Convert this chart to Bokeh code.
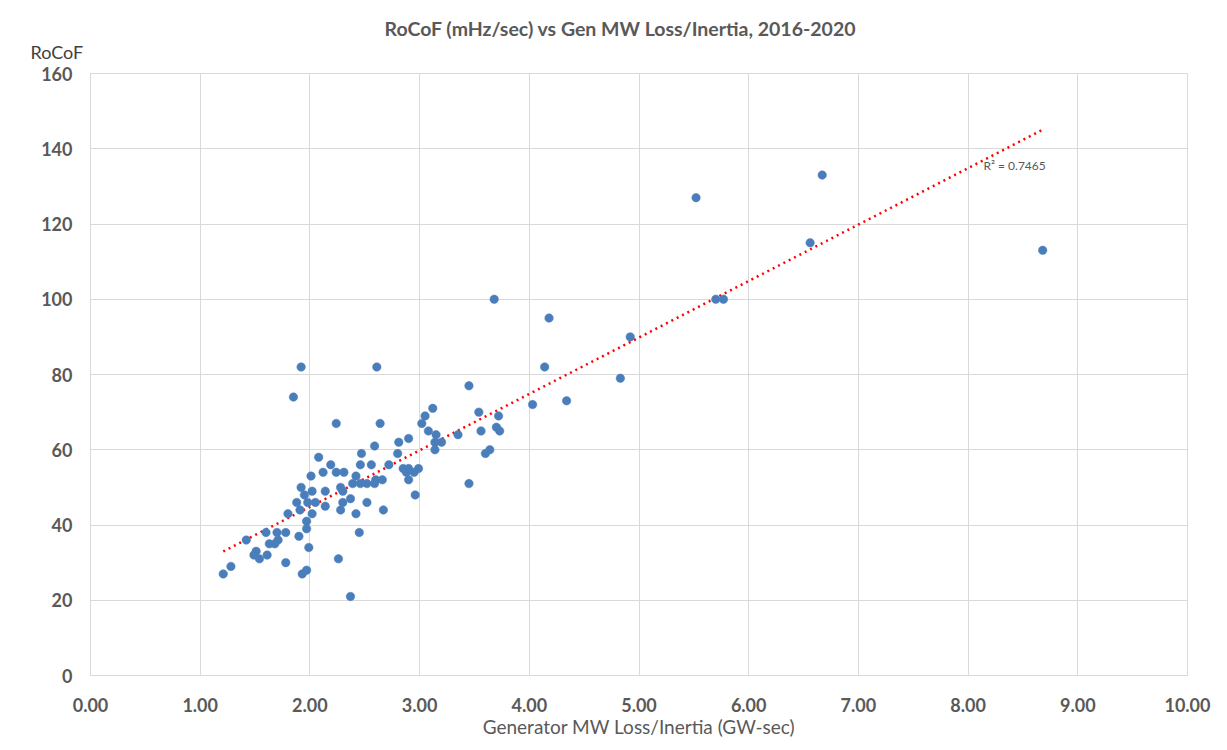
import numpy as np
from bokeh.plotting import figure
from bokeh.models import Label, Title, FixedTicker, PrintfTickFormatter, ColumnDataSource
from bokeh.embed import file_html
from bokeh.resources import INLINE

# Generator MW Loss / Inertia (GW-sec)
loss_inertia = [
    1.92, 2.61, 1.85, 2.24, 2.64, 2.81, 2.59, 2.80, 2.47, 2.08,
    2.19, 2.46, 2.56, 2.72, 2.12, 2.24, 2.31, 2.01, 2.42, 2.60,
    2.66, 1.92, 2.02, 2.14, 2.28, 2.39, 2.46, 2.52, 2.59, 1.95,
    2.30, 1.88, 1.98, 2.05, 2.14, 2.37, 2.30, 2.52, 1.91, 2.02,
    2.28, 2.42, 2.67, 1.80, 1.97, 1.97, 1.60, 1.70, 1.78, 1.42,
    1.90, 2.45, 1.71, 1.63, 1.68, 1.99, 1.51, 1.49, 1.54, 1.61,
    1.78, 2.26, 1.28, 1.21, 1.97, 1.93, 2.37,
    4.14, 3.45, 4.34, 4.03, 3.12, 3.05, 3.54, 3.72, 3.02, 3.08,
    3.15, 3.35, 3.56, 3.70, 3.73, 2.90, 3.14, 3.20, 3.14, 3.60,
    3.64, 2.85, 2.90, 2.99, 2.88, 2.95, 2.90, 2.96, 3.45,
    3.68, 4.18, 4.92, 4.83, 5.52, 5.70, 5.77, 6.67, 6.56, 8.68,
]
# RoCoF (mHz/sec)
rocof = [
    82, 82, 74, 67, 67, 62, 61, 59, 59, 58,
    56, 56, 56, 56, 54, 54, 54, 53, 53, 52,
    52, 50, 49, 49, 50, 51, 51, 51, 51, 48,
    49, 46, 46, 46, 45, 47, 46, 46, 44, 43,
    44, 43, 44, 43, 41, 39, 38, 38, 38, 36,
    37, 38, 36, 35, 35, 34, 33, 32, 31, 32,
    30, 31, 29, 27, 28, 27, 21,
    82, 77, 73, 72, 71, 69, 70, 69, 67, 65,
    64, 64, 65, 66, 65, 63, 62, 62, 60, 59,
    60, 55, 55, 55, 54, 54, 52, 48, 51,
    100, 95, 90, 79, 127, 100, 100, 133, 115, 113,
]

x_ticks = [0, 1, 2, 3, 4, 5, 6, 7, 8, 9, 10]
y_ticks = [0, 20, 40, 60, 80, 100, 120, 140, 160]

title_text = "RoCoF (mHz/sec) vs Gen MW Loss/Inertia, 2016-2020"
x_label = "Generator MW Loss/Inertia (GW-sec)"
y_label = "RoCoF"
r2_text = "R\u00b2 = 0.7465"

FONT = "Lato"
GREY = "#595959"
GRID = "#d9d9d9"

p = figure(width=1211, height=745, x_range=(0, 10), y_range=(0, 160),
           output_backend="svg", toolbar_location=None,
           min_border_left=90, min_border_right=24, min_border_top=73,
           min_border_bottom=70)
p.outline_line_color = GRID

# chart title (outer title row)
p.title.text = title_text
p.title.align = "left"
p.title.offset = 294
p.title.vertical_align = "bottom"
p.title.standoff = -19
p.title.text_font = FONT
p.title.text_font_style = "bold"
p.title.text_font_size = "19.5px"
p.title.text_color = GREY

# y-axis caption above the top-left corner of the plot area (inner title row)
p.add_layout(Title(text=y_label, align="left", offset=-60,
                   vertical_align="middle", standoff=19,
                   text_font=FONT, text_font_style="normal",
                   text_font_size="18px", text_color="#404040"), "above")

# trendline (least squares)
xs = np.array(loss_inertia)
ys = np.array(rocof)
slope, intercept = np.polyfit(xs, ys, 1)
tx = np.array([xs.min(), xs.max()])
ty = slope * tx + intercept
p.line(tx, ty, line_color="#ff0000", line_width=2.5, line_dash="2 4")

src = ColumnDataSource(dict(x=loss_inertia, y=rocof))
p.scatter("x", "y", source=src, size=8.5, fill_color="#4a7ebb",
          line_color="#4a7ebb", line_width=0.5)

for ax in (p.xaxis[0], p.yaxis[0]):
    ax.major_tick_out = 0
    ax.major_tick_in = 0
    ax.minor_tick_out = 0
    ax.minor_tick_in = 0
    ax.axis_line_color = GRID
    ax.major_label_text_font = FONT
    ax.major_label_text_font_style = "bold"
    ax.major_label_text_font_size = "18px"
    ax.major_label_text_color = GREY

p.xaxis[0].ticker = FixedTicker(ticks=x_ticks)
p.yaxis[0].ticker = FixedTicker(ticks=y_ticks)
p.xaxis[0].formatter = PrintfTickFormatter(format="%.2f")
p.xaxis[0].major_label_standoff = 22
p.yaxis[0].major_label_standoff = 18
p.xaxis[0].axis_label = x_label
p.xaxis[0].axis_label_text_font = FONT
p.xaxis[0].axis_label_text_font_style = "normal"
p.xaxis[0].axis_label_text_font_size = "19px"
p.xaxis[0].axis_label_text_color = GREY
p.xaxis[0].axis_label_standoff = 0

p.xgrid.ticker = FixedTicker(ticks=x_ticks)
p.ygrid.ticker = FixedTicker(ticks=y_ticks)
p.xgrid.grid_line_color = GRID
p.ygrid.grid_line_color = GRID

p.add_layout(Label(x=8.14, y=135.5, text=r2_text, text_align="left",
                   text_baseline="middle", text_font=FONT,
                   text_font_size="12px", text_color=GREY))

open("out.html", "w").write(file_html(p, INLINE))
